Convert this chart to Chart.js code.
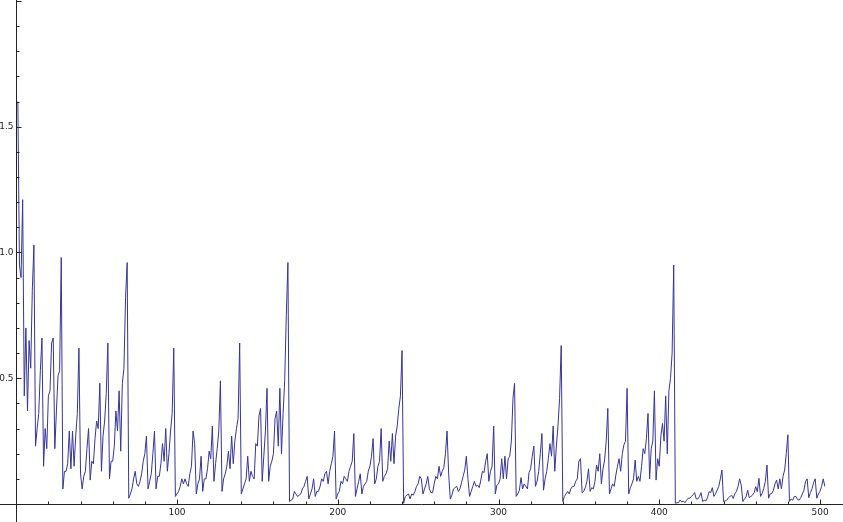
<!DOCTYPE html>
<html>
<head>
<meta charset="utf-8">
<script src="https://cdn.jsdelivr.net/npm/chart.js@4/dist/chart.umd.min.js"></script>
<style>
html, body { margin: 0; padding: 0; background: #fff }
#wrap { width: 843px; height: 522px }
</style>
</head>
<body>
<div id="wrap"><canvas id="plot" width="843" height="522"></canvas></div>
<script>
// series values, one per step (x = 1, 2, 3 ...)
const values = [
  1.60, 0.95, 0.90, 1.21, 0.43, 0.70, 0.37, 0.65, 0.54, 0.85,
  1.03, 0.23, 0.30, 0.36, 0.53, 0.66, 0.15, 0.30, 0.22, 0.43,
  0.45, 0.64, 0.66, 0.22, 0.37, 0.51, 0.53, 0.98, 0.06, 0.13,
  0.13, 0.16, 0.29, 0.14, 0.29, 0.15, 0.27, 0.36, 0.62, 0.12,
  0.06, 0.11, 0.13, 0.22, 0.30, 0.095, 0.17, 0.16, 0.26, 0.33,
  0.30, 0.48, 0.13, 0.27, 0.33, 0.44, 0.64, 0.10, 0.17, 0.17,
  0.23, 0.37, 0.29, 0.45, 0.21, 0.48, 0.54, 0.82, 0.96, 0.023,
  0.04, 0.06, 0.10, 0.13, 0.08, 0.07, 0.09, 0.12, 0.17, 0.20,
  0.27, 0.06, 0.09, 0.12, 0.20, 0.29, 0.06, 0.11, 0.11, 0.16,
  0.24, 0.17, 0.30, 0.13, 0.20, 0.29, 0.36, 0.62, 0.03, 0.04,
  0.05, 0.07, 0.10, 0.08, 0.10, 0.08, 0.07, 0.12, 0.15, 0.29,
  0.24, 0.04, 0.08, 0.10, 0.19, 0.05, 0.10, 0.10, 0.14, 0.21,
  0.18, 0.31, 0.09, 0.16, 0.22, 0.29, 0.49, 0.05, 0.10, 0.12,
  0.15, 0.21, 0.14, 0.27, 0.16, 0.25, 0.30, 0.34, 0.64, 0.04,
  0.06, 0.08, 0.10, 0.19, 0.09, 0.13, 0.11, 0.10, 0.24, 0.23,
  0.35, 0.38, 0.09, 0.19, 0.29, 0.46, 0.09, 0.15, 0.17, 0.20,
  0.34, 0.37, 0.23, 0.46, 0.20, 0.36, 0.49, 0.75, 0.96, 0.01,
  0.015, 0.02, 0.05, 0.04, 0.03, 0.035, 0.04, 0.06, 0.07, 0.09,
  0.11, 0.02, 0.04, 0.06, 0.10, 0.03, 0.05, 0.05, 0.07, 0.10,
  0.09, 0.12, 0.13, 0.08, 0.13, 0.16, 0.19, 0.29, 0.02, 0.04,
  0.05, 0.09, 0.08, 0.11, 0.10, 0.09, 0.13, 0.15, 0.17, 0.28,
  0.03, 0.06, 0.09, 0.12, 0.04, 0.07, 0.08, 0.09, 0.13, 0.15,
  0.19, 0.26, 0.08, 0.10, 0.15, 0.17, 0.30, 0.09, 0.11, 0.12,
  0.14, 0.25, 0.17, 0.28, 0.16, 0.27, 0.31, 0.38, 0.43, 0.61,
  0.003, 0.03, 0.035, 0.04, 0.02, 0.04, 0.035, 0.05, 0.07, 0.08,
  0.11, 0.10, 0.04, 0.06, 0.08, 0.11, 0.06, 0.045, 0.045, 0.08,
  0.11, 0.10, 0.15, 0.11, 0.13, 0.145, 0.20, 0.29, 0.12, 0.02,
  0.035, 0.06, 0.065, 0.07, 0.05, 0.06, 0.085, 0.11, 0.135, 0.19,
  0.10, 0.03, 0.05, 0.07, 0.09, 0.07, 0.075, 0.065, 0.095, 0.13,
  0.125, 0.17, 0.20, 0.09, 0.13, 0.15, 0.31, 0.04, 0.075, 0.08,
  0.10, 0.18, 0.10, 0.19, 0.10, 0.18, 0.19, 0.25, 0.42, 0.48,
  0.03, 0.04, 0.055, 0.105, 0.06, 0.08, 0.07, 0.06, 0.125, 0.14,
  0.19, 0.23, 0.07, 0.09, 0.13, 0.20, 0.28, 0.055, 0.10, 0.13,
  0.18, 0.24, 0.19, 0.31, 0.13, 0.23, 0.31, 0.42, 0.63, 0.01,
  0.03, 0.04, 0.05, 0.04, 0.06, 0.07, 0.07, 0.09, 0.10, 0.17,
  0.18, 0.045, 0.05, 0.065, 0.09, 0.14, 0.05, 0.065, 0.06, 0.09,
  0.155, 0.13, 0.20, 0.08, 0.14, 0.175, 0.25, 0.38, 0.04, 0.06,
  0.08, 0.07, 0.115, 0.15, 0.18, 0.13, 0.20, 0.235, 0.25, 0.46,
  0.04, 0.065, 0.08, 0.10, 0.175, 0.09, 0.11, 0.09, 0.15, 0.22,
  0.20, 0.26, 0.36, 0.10, 0.22, 0.25, 0.45, 0.095, 0.18, 0.15,
  0.27, 0.32, 0.25, 0.43, 0.20, 0.45, 0.50, 0.60, 0.95, 0.003,
  0.005, 0.005, 0.016, 0.008, 0.012, 0.005, 0.015, 0.023, 0.023, 0.03,
  0.037, 0.045, 0.02, 0.02, 0.03, 0.045, 0.01, 0.015, 0.012, 0.025,
  0.049, 0.045, 0.065, 0.03, 0.04, 0.055, 0.07, 0.10, 0.135, 0.01,
  0.012, 0.015, 0.025, 0.03, 0.035, 0.022, 0.04, 0.05, 0.069, 0.10,
  0.075, 0.01, 0.02, 0.028, 0.055, 0.025, 0.03, 0.035, 0.045, 0.069,
  0.049, 0.102, 0.03, 0.042, 0.062, 0.09, 0.155, 0.023, 0.04, 0.042,
  0.055, 0.08, 0.095, 0.06, 0.10, 0.06, 0.11, 0.135, 0.20, 0.275,
  0.01, 0.02, 0.015, 0.03, 0.03, 0.018, 0.015, 0.025, 0.04, 0.055,
  0.09, 0.10, 0.025, 0.045, 0.06, 0.085, 0.10, 0.023, 0.04, 0.05,
  0.07, 0.10, 0.07
]
const steps = values.map((v, i) => i + 1)

// tick labels, and where the minor ticks go
const xTickLabels = [100, 200, 300, 400, 500]
const yTickLabels = [0.5, 1.0, 1.5]
const xMinorStep = 20
const yMinorStep = 0.1

// plot range, padded past zero like Mathematica does
const xRange = [-10.1, 514.3]
const yRange = [-0.0716, 2.004]

const lineColor = "#35359a"
const axisColor = "#222"
const labelFont = "9px 'DejaVu Sans', sans-serif"

// axes cross at the origin with ticks pointing into the plot
const axes = {
  id: "axes",
  afterDatasetsDraw(chart) {
    const { ctx, chartArea: a, scales: { x, y } } = chart
    const x0 = Math.round(x.getPixelForValue(0)) + 0.5
    const y0 = Math.round(y.getPixelForValue(0)) + 0.5
    ctx.save()
    ctx.strokeStyle = axisColor
    ctx.lineWidth = 1
    ctx.beginPath()
    ctx.moveTo(a.left, y0); ctx.lineTo(a.right, y0)
    ctx.moveTo(x0, a.top); ctx.lineTo(x0, a.bottom)
    ctx.stroke()

    ctx.beginPath()
    for (let v = xMinorStep; v <= x.max; v += xMinorStep) {
      const px = Math.round(x.getPixelForValue(v)) + 0.5
      const len = xTickLabels.includes(v) ? 5 : 3
      ctx.moveTo(px, y0); ctx.lineTo(px, y0 - len)
    }
    for (let k = 1; k * yMinorStep <= y.max + 1e-9; k++) {
      const v = k * yMinorStep
      const py = Math.round(y.getPixelForValue(v)) + 0.5
      const len = k % 5 === 0 ? 5 : 3
      ctx.moveTo(x0, py); ctx.lineTo(x0 + len, py)
    }
    ctx.stroke()

    ctx.fillStyle = "#222"
    ctx.font = labelFont
    ctx.textAlign = "center"
    ctx.textBaseline = "top"
    xTickLabels.forEach(v => ctx.fillText(String(v), x.getPixelForValue(v), y0 + 4))
    ctx.textAlign = "right"
    ctx.textBaseline = "middle"
    yTickLabels.forEach(v => ctx.fillText(v.toFixed(1), x0 - 3, y.getPixelForValue(v)))
    ctx.restore()
  }
}

new Chart(document.getElementById("plot"), {
  type: "line",
  data: {
    labels: steps,
    datasets: [{
      data: steps.map((s, i) => ({ x: s, y: values[i] })),
      borderColor: lineColor,
      borderWidth: 1,
      pointRadius: 0,
      tension: 0,
      fill: false
    }]
  },
  options: {
    responsive: false,
    animation: false,
    events: [],
    layout: { padding: 0 },
    plugins: { legend: { display: false }, tooltip: { enabled: false } },
    scales: {
      x: { type: "linear", display: false, min: xRange[0], max: xRange[1] },
      y: { display: false, min: yRange[0], max: yRange[1] }
    }
  },
  plugins: [axes]
})
</script>
</body>
</html>
